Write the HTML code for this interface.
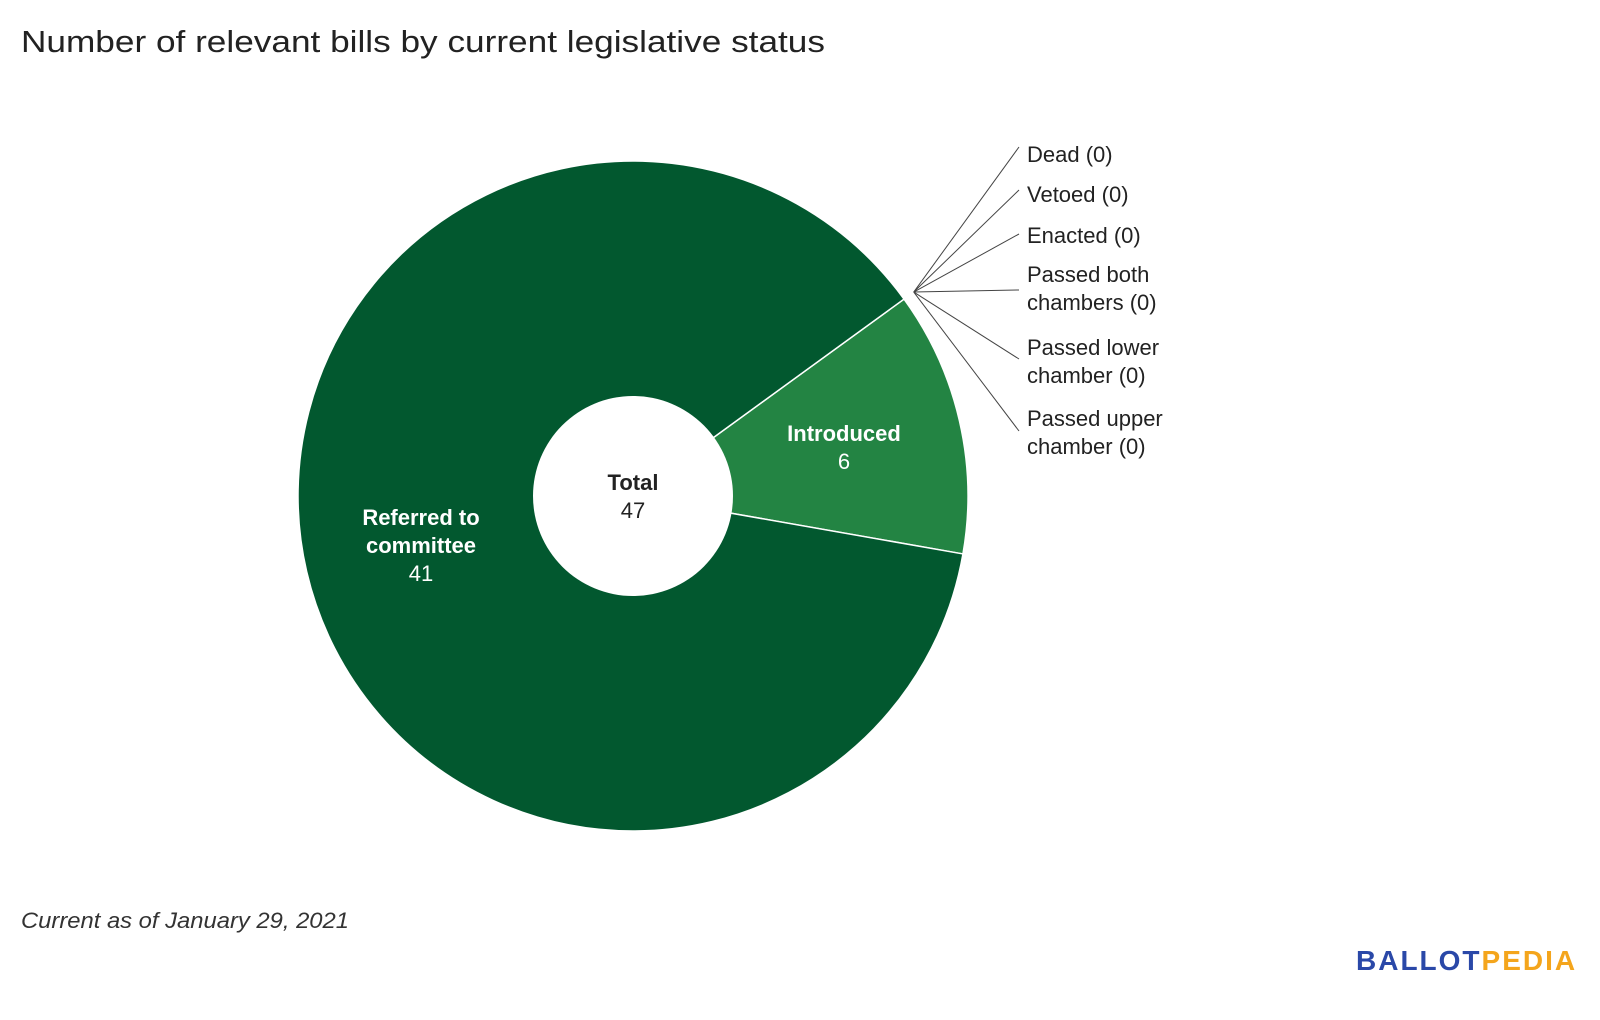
<!DOCTYPE html>
<html><head><meta charset="utf-8">
<style>
body{margin:0;background:#fff;width:1600px;height:1015px;overflow:hidden;font-family:"Liberation Sans",sans-serif;}
</style></head>
<body>
<svg width="1600" height="1015" viewBox="0 0 1600 1015">
<text x="21" y="52" font-size="31" fill="#222" textLength="804" lengthAdjust="spacingAndGlyphs">Number of relevant bills by current legislative status</text>
<g id="slices"></g>
<g id="labels"></g>
<text x="21" y="928" font-size="22" font-style="italic" fill="#333" textLength="328" lengthAdjust="spacingAndGlyphs">Current as of January 29, 2021</text>
<text x="1356" y="970" font-size="28" font-weight="bold" letter-spacing="2"><tspan fill="#2a48a8">BALLOT</tspan><tspan fill="#f4a51c">PEDIA</tspan></text>
</svg>
<script>
const categories=["Introduced","Referred to committee","Dead","Vetoed","Enacted","Passed both chambers","Passed lower chamber","Passed upper chamber"];
const values=[6,41,0,0,0,0,0,0];
const colors=["#238443","#02582f"];
const cx=633,cy=496,R=335,r0=100,startDeg=54;
const ns="http://www.w3.org/2000/svg";
const total=values.reduce((a,b)=>a+b,0);
function pt(deg,rad){const a=(deg-90)*Math.PI/180;return [cx+rad*Math.cos(a),cy+rad*Math.sin(a)];}
const sg=document.getElementById('slices'),lg=document.getElementById('labels');
let ang=startDeg;
function txt(x,y,s,size,fill,weight,anchor){const t=document.createElementNS(ns,'text');t.setAttribute('x',x);t.setAttribute('y',y);t.setAttribute('font-size',size);t.setAttribute('fill',fill);if(weight)t.setAttribute('font-weight',weight);t.setAttribute('text-anchor',anchor||'middle');t.textContent=s;return t;}
values.forEach((v,i)=>{
  if(v<=0)return;
  const a0=ang,a1=ang+v/total*360;ang=a1;
  const [x0,y0]=pt(a0,R),[x1,y1]=pt(a1,R);
  const large=(a1-a0)>180?1:0;
  const p=document.createElementNS(ns,'path');
  p.setAttribute('d',`M${cx},${cy} L${x0},${y0} A${R},${R} 0 ${large} 1 ${x1},${y1} Z`);
  p.setAttribute('fill',colors[i]);p.setAttribute('stroke','#fff');p.setAttribute('stroke-width','1.5');
  
  
  sg.appendChild(p);
});
const hole=document.createElementNS(ns,'circle');
hole.setAttribute('cx',cx);hole.setAttribute('cy',cy);hole.setAttribute('r',r0);hole.setAttribute('fill','#fff');


sg.appendChild(hole);
let g=document.createElementNS(ns,'g');


g.appendChild(txt(844,441,categories[0],22,'#fff','bold'));
g.appendChild(txt(844,469,String(values[0]),22,'#fff'));
lg.appendChild(g);
g=document.createElementNS(ns,'g');


g.appendChild(txt(421,525,'Referred to',22,'#fff','bold'));
g.appendChild(txt(421,553,'committee',22,'#fff','bold'));
g.appendChild(txt(421,581,String(values[1]),22,'#fff'));
lg.appendChild(g);
g=document.createElementNS(ns,'g');


g.appendChild(txt(633,490,'Total',22,'#222','bold'));
g.appendChild(txt(633,518,String(total),22,'#222'));
lg.appendChild(g);
const zeroLines=[["Dead (0)"],["Vetoed (0)"],["Enacted (0)"],["Passed both","chambers (0)"],["Passed lower","chamber (0)"],["Passed upper","chamber (0)"]];
const zeroY=[154,194,235,274,347,418];
const lineY=[147,190,234,290,359,431];
const [hx,hy]=pt(startDeg,R+12);
zeroLines.forEach((ls,i)=>{
  const l=document.createElementNS(ns,'line');
  l.setAttribute('x1',hx);l.setAttribute('y1',hy);l.setAttribute('x2',1019);l.setAttribute('y2',lineY[i]);
  l.setAttribute('stroke','#444');l.setAttribute('stroke-width','1');
  
  
  lg.appendChild(l);
  ls.forEach((s,j)=>{
    const t=txt(1027,zeroY[i]+8+j*28,s,22,'#222',null,'start');
    
    
    lg.appendChild(t);
  });
});
</script>
</body></html>
